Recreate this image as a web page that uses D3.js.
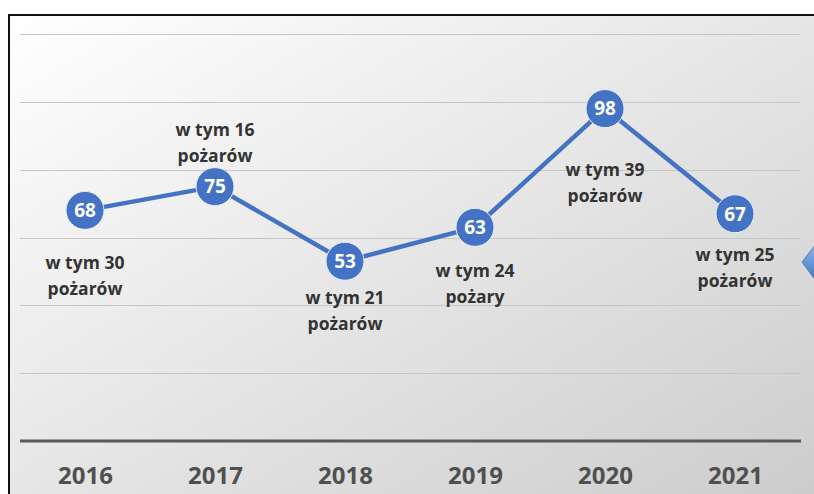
<!DOCTYPE html>
<html>
<head>
<meta charset="utf-8">
<script src="https://cdn.jsdelivr.net/npm/d3@7"></script>
<style>
  body { margin: 0; background: #fff; }
  svg { display: block; }
</style>
</head>
<body>
<div id="chart"></div>
<script>
// data
var years = ["2016", "2017", "2018", "2019", "2020", "2021"];
var totals = [68, 75, 53, 63, 98, 67];
var fires = [30, 16, 21, 24, 39, 25];
var fireWords = ["pożarów", "pożarów", "pożarów", "pożary", "pożarów", "pożarów"];
var yTicks = [0, 20, 40, 60, 80, 100, 120];

// where each "w tym" note sits, relative to its point (px)
var noteShift = [52, -57, 36, 43, 61, 41];

var W = 814, H = 494;
var margin = {top: 34, left: 20, right: 14, bottom: 53};

var svg = d3.select("#chart").append("svg")
  .attr("width", W).attr("height", H);

var defs = svg.append("defs");
var grad = defs.append("linearGradient")
  .attr("id", "bg").attr("x1", "0").attr("y1", "0").attr("x2", "1").attr("y2", "1");
grad.append("stop").attr("offset", "0").attr("stop-color", "#ffffff");
grad.append("stop").attr("offset", "0.45").attr("stop-color", "#e8e8e8");
grad.append("stop").attr("offset", "1").attr("stop-color", "#cbcbcb");

var arrowGrad = defs.append("linearGradient")
  .attr("id", "arr").attr("x1", "0").attr("y1", "0").attr("x2", "0").attr("y2", "1");
arrowGrad.append("stop").attr("offset", "0").attr("stop-color", "#8fb8ea");
arrowGrad.append("stop").attr("offset", "1").attr("stop-color", "#3f77c4");

// frame
svg.append("rect")
  .attr("x", 9).attr("y", 15).attr("width", W + 10).attr("height", H)
  .attr("fill", "url(#bg)")
  .attr("stroke", "#111").attr("stroke-width", 2);

var x = d3.scalePoint()
  .domain(years)
  .range([margin.left, W - margin.right])
  .padding(0.5);

var y = d3.scaleLinear()
  .domain([0, 120])
  .range([441, margin.top]);

// gridlines
svg.append("g")
  .selectAll("line")
  .data(yTicks.filter(function(d){ return d > 0; }))
  .enter()
  .append("line")
  .attr("x1", margin.left).attr("x2", W - margin.right)
  .attr("y1", function(d){ return Math.round(y(d)) + 0.5; })
  .attr("y2", function(d){ return Math.round(y(d)) + 0.5; })
  .attr("stroke", "#c6c6c6").attr("stroke-width", 1.2);

// x axis
var xAxis = d3.axisBottom(x).tickSize(0).tickPadding(26);
var gx = svg.append("g")
  .attr("transform", "translate(0," + y(0) + ")")
  .call(xAxis);
gx.select(".domain").remove();
gx.append("line")
  .attr("x1", margin.left).attr("x2", W - margin.right + 1)
  .attr("stroke", "#595959").attr("stroke-width", 3);
gx.selectAll(".tick text")
  .attr("font-family", "'Open Sans', sans-serif")
  .attr("font-weight", "bold")
  .attr("font-size", 24)
  .attr("fill", "#505050")
  .attr("dy", "0.71em");

// line
var line = d3.line()
  .x(function(d, i){ return x(years[i]); })
  .y(function(d){ return y(d); });

svg.append("path")
  .datum(totals)
  .attr("d", line)
  .attr("fill", "none")
  .attr("stroke", "#4472C4")
  .attr("stroke-width", 4.5)
  .attr("stroke-linejoin", "round");

// markers
var pts = svg.append("g").selectAll("g")
  .data(totals)
  .enter()
  .append("g")
  .attr("transform", function(d, i){ return "translate(" + x(years[i]) + "," + y(d) + ")"; });

pts.append("circle")
  .attr("r", 19)
  .attr("fill", "#4472C4")
  .attr("stroke", "#e8eef8").attr("stroke-width", 1);

pts.append("text")
  .text(function(d){ return d; })
  .attr("text-anchor", "middle")
  .attr("dy", "0.36em")
  .attr("font-family", "'Open Sans', sans-serif")
  .attr("font-weight", "bold")
  .attr("font-size", 19)
  .attr("fill", "#ffffff");

// notes "w tym N pożarów"
var notes = svg.append("g").selectAll("text")
  .data(fires)
  .enter()
  .append("text")
  .attr("text-anchor", "middle")
  .attr("font-family", "'Open Sans', sans-serif")
  .attr("font-weight", "bold")
  .attr("font-size", 17.5)
  .attr("fill", "#333333")
  .attr("transform", function(d, i){
    return "translate(" + x(years[i]) + "," + (y(totals[i]) + noteShift[i]) + ")";
  });

notes.append("tspan")
  .attr("x", 0).attr("dy", "0.36em")
  .text(function(d){ return "w tym " + d; });
notes.append("tspan")
  .attr("x", 0).attr("dy", 26)
  .text(function(d, i){ return fireWords[i]; });

// blue pointer on the right edge
svg.append("path")
  .attr("d", "M802,262 L816,244 L816,281 Z")
  .attr("fill", "url(#arr)")
  .attr("stroke", "#3a6fb8").attr("stroke-width", 0.8);
</script>
</body>
</html>
